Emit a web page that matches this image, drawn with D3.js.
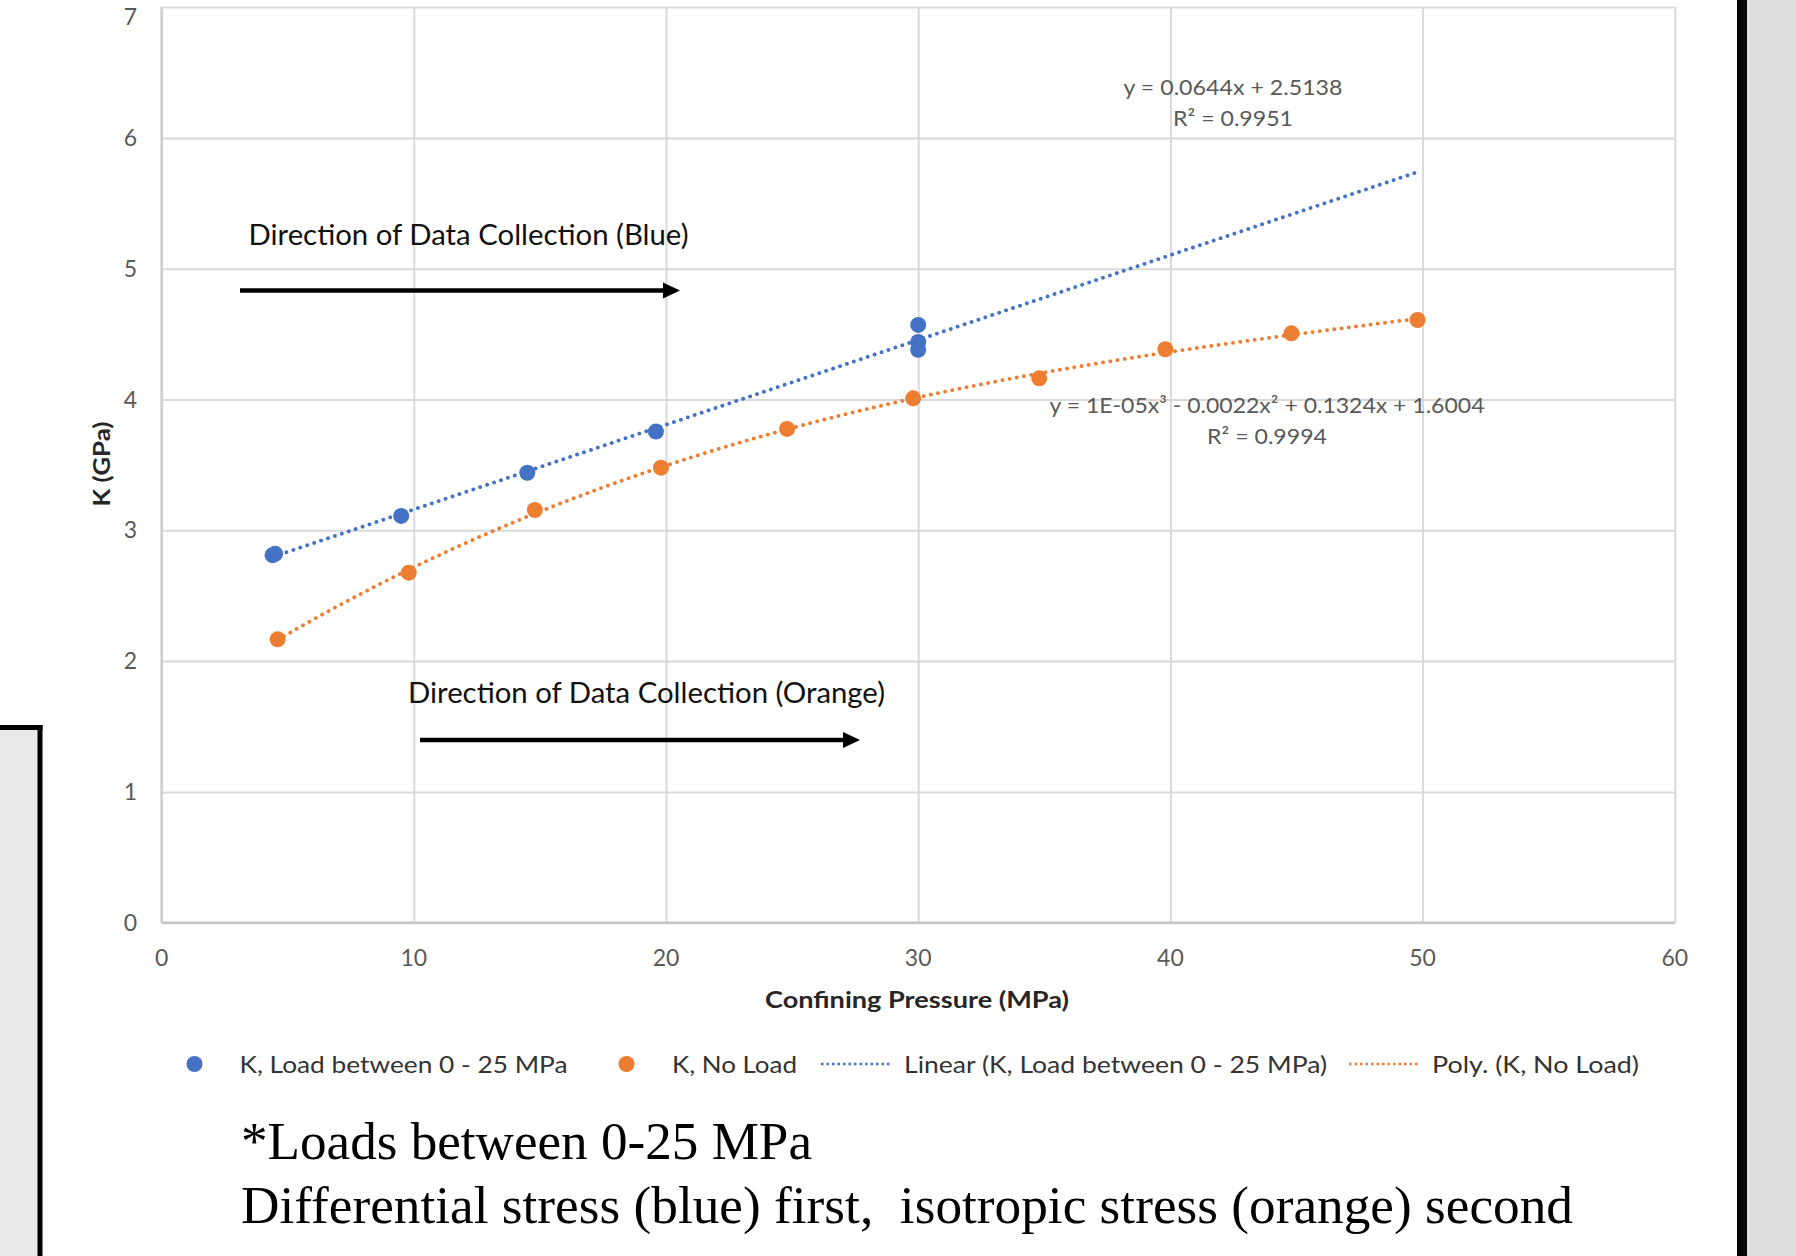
<!DOCTYPE html>
<html>
<head>
<meta charset="utf-8">
<script src="https://cdnjs.cloudflare.com/ajax/libs/d3/7.8.5/d3.min.js"></script>
<style>
  html, body { margin: 0; padding: 0; background: #fff; }
  svg { display: block; }
</style>
</head>
<body>
<div id="chart"></div>
<script>
// data
const loadX = [4.4, 4.5, 9.5, 14.5, 19.6, 30, 30, 30];
const loadK = [2.81, 2.82, 3.11, 3.44, 3.755, 4.57, 4.44, 4.38];
const noLoadX = [4.6, 9.8, 14.8, 19.8, 24.8, 29.8, 34.8, 39.8, 44.8, 49.8];
const noLoadK = [2.167, 2.676, 3.155, 3.479, 3.775, 4.009, 4.162, 4.384, 4.506, 4.608];
const xTicks = [0, 10, 20, 30, 40, 50, 60];
const yTicks = [0, 1, 2, 3, 4, 5, 6, 7];
const legendLabels = ["K, Load between 0 - 25 MPa", "K, No Load",
  "Linear (K, Load between 0 - 25 MPa)", "Poly. (K, No Load)"];
const eqLinear = ["y = 0.0644x + 2.5138", "R² = 0.9951"];
const eqPoly = ["y = 1E-05x³ - 0.0022x² + 0.1324x + 1.6004", "R² = 0.9994"];
const noteLines = ["*Loads between 0-25 MPa",
  "Differential stress (blue) first,  isotropic stress (orange) second"];
const linForecastEnd = 49.7; // linear trendline is extended forward to here

const W = 1796, H = 1256;
const blue = "#4472c4", orange = "#ed7d31";
const font = "Lato, 'Open Sans', sans-serif";

const svg = d3.select("#chart").append("svg")
  .attr("width", W)
  .attr("height", H);

// framing panels around the chart (screenshot edges)
svg.append("rect").attr("x", 0).attr("y", 729).attr("width", 38).attr("height", H - 729).attr("fill", "#e9e9e9");
svg.append("rect").attr("x", 0).attr("y", 725).attr("width", 42.5).attr("height", 5).attr("fill", "#000");
svg.append("rect").attr("x", 37.5).attr("y", 725).attr("width", 5).attr("height", H - 725).attr("fill", "#000");
svg.append("rect").attr("x", 1737).attr("y", 0).attr("width", 10).attr("height", H).attr("fill", "#050505");
svg.append("rect").attr("x", 1747).attr("y", 0).attr("width", W - 1747).attr("height", H).attr("fill", "#dedede");

// scales
const x = d3.scaleLinear().domain([0, 60]).range([161.6, 1674.8]);
const y = d3.scaleLinear().domain([0, 7]).range([922.7, 7.1]);

// gridlines
svg.append("g")
  .attr("transform", `translate(0,${y(0)})`)
  .call(d3.axisBottom(x).tickValues(xTicks).tickSize(-(y(0) - y(7))).tickFormat(""))
  .call(g => g.select(".domain").remove())
  .selectAll("line").attr("stroke", "#d9d9d9").attr("stroke-width", 2);

svg.append("g")
  .attr("transform", `translate(${x(0)},0)`)
  .call(d3.axisLeft(y).tickValues(yTicks).tickSize(-(x(60) - x(0))).tickFormat(""))
  .call(g => g.select(".domain").remove())
  .selectAll("line").attr("stroke", "#d9d9d9").attr("stroke-width", 2);

// axis lines
svg.append("line").attr("x1", x(0)).attr("x2", x(60)).attr("y1", y(0)).attr("y2", y(0))
  .attr("stroke", "#c4c4c4").attr("stroke-width", 2.5);
svg.append("line").attr("x1", x(0)).attr("x2", x(0)).attr("y1", y(0)).attr("y2", y(7))
  .attr("stroke", "#cfcfcf").attr("stroke-width", 2.5);

// tick labels
svg.append("g").selectAll("text")
  .data(xTicks)
  .enter().append("text")
  .attr("x", d => x(d))
  .attr("y", 966)
  .attr("text-anchor", "middle")
  .attr("font-family", font)
  .attr("font-size", "23px")
  .attr("fill", "#595959")
  .text(d => d);

// top label is nudged down so it stays inside the page
svg.append("g").selectAll("text")
  .data(yTicks)
  .enter().append("text")
  .attr("x", 130.5)
  .attr("y", d => Math.max(y(d) + 8, 25))
  .attr("text-anchor", "middle")
  .attr("font-family", font)
  .attr("font-size", "23px")
  .attr("fill", "#595959")
  .text(d => d);

// axis titles
svg.append("text")
  .attr("x", 917)
  .attr("y", 1008)
  .attr("text-anchor", "middle")
  .attr("font-family", font)
  .attr("font-weight", "bold")
  .attr("font-size", "23px")
  .attr("fill", "#262626")
  .attr("textLength", 304)
  .attr("lengthAdjust", "spacingAndGlyphs")
  .text("Confining Pressure (MPa)");

svg.append("text")
  .attr("transform", "translate(110,464) rotate(-90)")
  .attr("text-anchor", "middle")
  .attr("font-family", font)
  .attr("font-weight", "bold")
  .attr("font-size", "23px")
  .attr("fill", "#262626")
  .attr("textLength", 85)
  .attr("lengthAdjust", "spacingAndGlyphs")
  .text("K (GPa)");

// least squares polynomial fit (coefficients, lowest power first)
function polyfit(xs, ys, deg) {
  const n = deg + 1;
  const A = d3.range(n).map(() => new Array(n + 1).fill(0));
  xs.forEach((xi, i) => {
    for (let r = 0; r < n; r++) {
      for (let c = 0; c < n; c++) A[r][c] += Math.pow(xi, r + c);
      A[r][n] += ys[i] * Math.pow(xi, r);
    }
  });
  for (let p = 0; p < n; p++) {
    let best = p;
    for (let r = p + 1; r < n; r++) if (Math.abs(A[r][p]) > Math.abs(A[best][p])) best = r;
    [A[p], A[best]] = [A[best], A[p]];
    for (let r = p + 1; r < n; r++) {
      const f = A[r][p] / A[p][p];
      for (let c = p; c <= n; c++) A[r][c] -= f * A[p][c];
    }
  }
  const coef = new Array(n).fill(0);
  for (let r = n - 1; r >= 0; r--) {
    let s = A[r][n];
    for (let c = r + 1; c < n; c++) s -= A[r][c] * coef[c];
    coef[r] = s / A[r][r];
  }
  return coef;
}
const evalPoly = (coef, v) => coef.reduce((s, c, i) => s + c * Math.pow(v, i), 0);

const linCoef = polyfit(loadX, loadK, 1);
const polyCoef = polyfit(noLoadX, noLoadK, 3);

const line = d3.line().x(d => x(d[0])).y(d => y(d[1]));

// trendlines
const linPts = [d3.min(loadX), linForecastEnd].map(v => [v, evalPoly(linCoef, v)]);
svg.append("path")
  .attr("d", line(linPts))
  .attr("fill", "none")
  .attr("stroke", blue)
  .attr("stroke-width", 3.8)
  .attr("stroke-linecap", "round")
  .attr("stroke-dasharray", "0.1 7.2");

const x0 = d3.min(noLoadX), x1 = d3.max(noLoadX);
const polyPts = d3.range(0, 101).map(i => {
  const v = x0 + (x1 - x0) * i / 100;
  return [v, evalPoly(polyCoef, v)];
});
svg.append("path")
  .attr("d", line(polyPts))
  .attr("fill", "none")
  .attr("stroke", orange)
  .attr("stroke-width", 3.8)
  .attr("stroke-linecap", "round")
  .attr("stroke-dasharray", "0.1 7.2");

// points
svg.append("g").selectAll("circle")
  .data(noLoadX.map((v, i) => [v, noLoadK[i]]))
  .enter().append("circle")
  .attr("cx", d => x(d[0]))
  .attr("cy", d => y(d[1]))
  .attr("r", 8)
  .attr("fill", orange);

svg.append("g").selectAll("circle")
  .data(loadX.map((v, i) => [v, loadK[i]]))
  .enter().append("circle")
  .attr("cx", d => x(d[0]))
  .attr("cy", d => y(d[1]))
  .attr("r", 8)
  .attr("fill", blue);

// trendline equations
svg.append("g").selectAll("text")
  .data(eqLinear)
  .enter().append("text")
  .attr("x", 1233)
  .attr("y", (d, i) => 95 + i * 31)
  .attr("text-anchor", "middle")
  .attr("font-family", font)
  .attr("font-size", "22px")
  .attr("fill", "#595959")
  .attr("textLength", (d, i) => [219, 120][i])
  .attr("lengthAdjust", "spacingAndGlyphs")
  .text(d => d);

svg.append("g").selectAll("text")
  .data(eqPoly)
  .enter().append("text")
  .attr("x", 1267)
  .attr("y", (d, i) => 413 + i * 31)
  .attr("text-anchor", "middle")
  .attr("font-family", font)
  .attr("font-size", "22px")
  .attr("fill", "#595959")
  .attr("textLength", (d, i) => [435, 120][i])
  .attr("lengthAdjust", "spacingAndGlyphs")
  .text(d => d);

// direction annotations with arrows
function arrow(xStart, xEnd, yy) {
  svg.append("line")
    .attr("x1", xStart).attr("x2", xEnd - 14)
    .attr("y1", yy).attr("y2", yy)
    .attr("stroke", "#000").attr("stroke-width", 4.4);
  svg.append("path")
    .attr("d", `M${xEnd},${yy} L${xEnd - 17},${yy - 8} L${xEnd - 17},${yy + 8} Z`)
    .attr("fill", "#000");
}

svg.append("text")
  .attr("x", 248.5).attr("y", 245)
  .attr("font-family", font).attr("font-size", "28px").attr("fill", "#111")
  .attr("textLength", 440).attr("lengthAdjust", "spacingAndGlyphs")
  .text("Direction of Data Collection (Blue)");
arrow(240, 680, 290.5);

svg.append("text")
  .attr("x", 408).attr("y", 703)
  .attr("font-family", font).attr("font-size", "28px").attr("fill", "#111")
  .attr("textLength", 477).attr("lengthAdjust", "spacingAndGlyphs")
  .text("Direction of Data Collection (Orange)");
arrow(420, 860, 740);

// legend
const legY = 1064;
const leg = svg.append("g");
leg.append("circle").attr("cx", 194.5).attr("cy", legY).attr("r", 8).attr("fill", blue);
leg.append("circle").attr("cx", 626.5).attr("cy", legY).attr("r", 8).attr("fill", orange);
leg.append("line").attr("x1", 821).attr("x2", 891).attr("y1", legY).attr("y2", legY)
  .attr("stroke", blue).attr("stroke-width", 2.5).attr("stroke-dasharray", "2.5 3");
leg.append("line").attr("x1", 1349).attr("x2", 1420).attr("y1", legY).attr("y2", legY)
  .attr("stroke", orange).attr("stroke-width", 2.5).attr("stroke-dasharray", "2.5 3");

const legX = [239.5, 672, 904, 1432];
const legW = [328, 125, 423, 207];
leg.selectAll("text")
  .data(legendLabels)
  .enter().append("text")
  .attr("x", (d, i) => legX[i])
  .attr("y", legY + 9)
  .attr("font-family", font)
  .attr("font-size", "24px")
  .attr("fill", "#333")
  .attr("textLength", (d, i) => legW[i])
  .attr("lengthAdjust", "spacingAndGlyphs")
  .text(d => d);

// note under the chart
svg.append("g").selectAll("text")
  .data(noteLines)
  .enter().append("text")
  .attr("x", 241)
  .attr("y", (d, i) => 1159 + i * 64)
  .attr("font-family", "'Liberation Serif', 'Times New Roman', serif")
  .attr("font-size", "53px")
  .attr("fill", "#000")
  .style("white-space", "pre")
  .attr("textLength", (d, i) => [571, 1332][i])
  .attr("lengthAdjust", "spacingAndGlyphs")
  .text(d => d);
</script>
</body>
</html>
